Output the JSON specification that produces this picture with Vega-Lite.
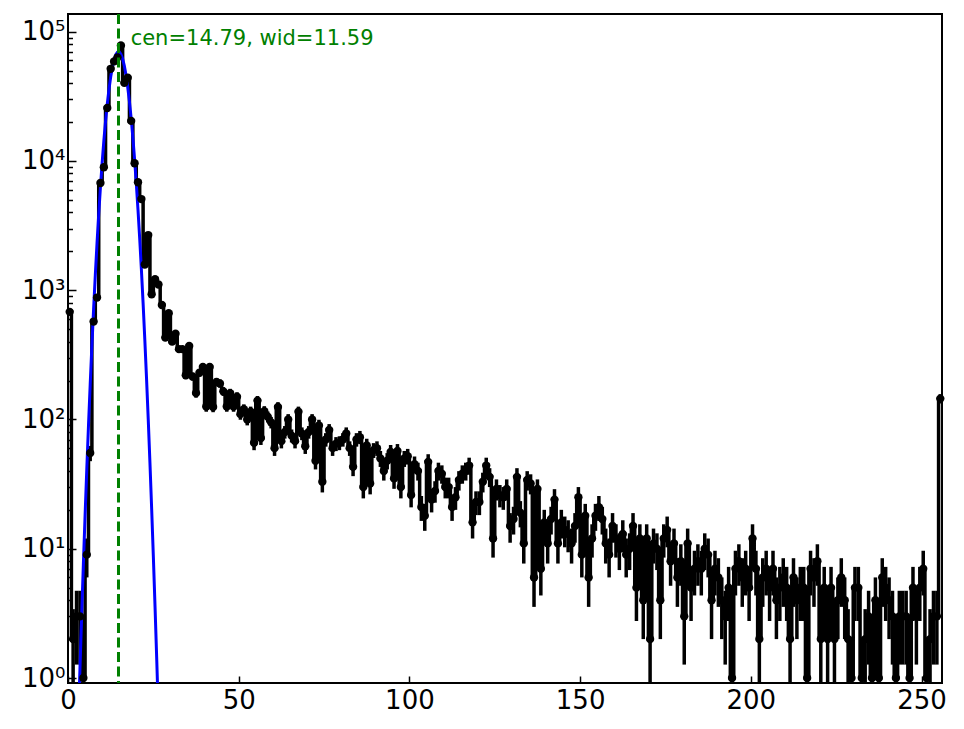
{
  "$schema": "https://vega.github.io/schema/vega-lite/v6.json",
  "width": 874,
  "height": 669,
  "autosize": {"type": "none"},
  "padding": {"left": 68, "top": 14, "right": 22, "bottom": 46},
  "background": "white",
  "config": {
    "font": "DejaVu Sans",
    "view": {"stroke": "black", "strokeWidth": 2},
    "axis": {"grid": false, "domain": false, "labelFlush": false, "labelOverlap": false, "labelBound": false, "ticks": true, "tickColor": "black", "tickWidth": 1.5, "tickOpacity": 1, "labelColor": "black", "labelFont": "DejaVu Sans", "labelFontSize": 26, "zindex": 1}
  },
  "datasets": {
    "hist": [
      {"x": 0.5, "n": 680, "e": 26.08}, {"x": 1.5, "n": 2, "e": 1.41}, {"x": 2.5, "n": 3, "e": 1.73}, {"x": 3.5, "n": 3, "e": 1.73},
      {"x": 4.5, "n": 1, "e": 0.999}, {"x": 5.5, "n": 9, "e": 3}, {"x": 6.5, "n": 55, "e": 7.42}, {"x": 7.5, "n": 572, "e": 23.92},
      {"x": 8.5, "n": 877, "e": 29.61}, {"x": 9.5, "n": 6750, "e": 82.16}, {"x": 10.5, "n": 8940, "e": 94.55}, {"x": 11.5, "n": 25700, "e": 160.31},
      {"x": 12.5, "n": 51600, "e": 227.16}, {"x": 13.5, "n": 58900, "e": 242.69}, {"x": 14.5, "n": 63300, "e": 251.59}, {"x": 15.5, "n": 78300, "e": 279.82},
      {"x": 16.5, "n": 40200, "e": 200.5}, {"x": 17.5, "n": 44000, "e": 209.76}, {"x": 18.5, "n": 20400, "e": 142.83}, {"x": 19.5, "n": 9600, "e": 97.98},
      {"x": 20.5, "n": 6840, "e": 82.7}, {"x": 21.5, "n": 5070, "e": 71.2}, {"x": 22.5, "n": 1580, "e": 39.75}, {"x": 23.5, "n": 2670, "e": 51.67},
      {"x": 24.5, "n": 931, "e": 30.51}, {"x": 25.5, "n": 1217, "e": 34.89}, {"x": 26.5, "n": 1107, "e": 33.27}, {"x": 27.5, "n": 769, "e": 27.73},
      {"x": 28.5, "n": 430, "e": 20.74}, {"x": 29.5, "n": 663, "e": 25.75}, {"x": 30.5, "n": 400, "e": 20}, {"x": 31.5, "n": 460, "e": 21.45},
      {"x": 32.5, "n": 350, "e": 18.71}, {"x": 33.5, "n": 350, "e": 18.71}, {"x": 34.5, "n": 220, "e": 14.83}, {"x": 35.5, "n": 370, "e": 19.24},
      {"x": 36.5, "n": 215, "e": 14.66}, {"x": 37.5, "n": 160, "e": 12.65}, {"x": 38.5, "n": 230, "e": 15.17}, {"x": 39.5, "n": 255, "e": 15.97},
      {"x": 40.5, "n": 126, "e": 11.22}, {"x": 41.5, "n": 255, "e": 15.97}, {"x": 42.5, "n": 125, "e": 11.18}, {"x": 43.5, "n": 195, "e": 13.96},
      {"x": 44.5, "n": 190, "e": 13.78}, {"x": 45.5, "n": 165, "e": 12.85}, {"x": 46.5, "n": 126, "e": 11.22}, {"x": 47.5, "n": 160, "e": 12.65},
      {"x": 48.5, "n": 126, "e": 11.22}, {"x": 49.5, "n": 150, "e": 12.25}, {"x": 50.5, "n": 110, "e": 10.49}, {"x": 51.5, "n": 120, "e": 10.95},
      {"x": 52.5, "n": 100, "e": 10}, {"x": 53.5, "n": 115, "e": 10.72}, {"x": 54.5, "n": 66, "e": 8.12}, {"x": 55.5, "n": 140, "e": 11.83},
      {"x": 56.5, "n": 72, "e": 8.49}, {"x": 57.5, "n": 116, "e": 10.77}, {"x": 58.5, "n": 105, "e": 10.25}, {"x": 59.5, "n": 95, "e": 9.75},
      {"x": 60.5, "n": 60, "e": 7.75}, {"x": 61.5, "n": 125, "e": 11.18}, {"x": 62.5, "n": 68, "e": 8.25}, {"x": 63.5, "n": 80, "e": 8.94},
      {"x": 64.5, "n": 100, "e": 10}, {"x": 65.5, "n": 75, "e": 8.66}, {"x": 66.5, "n": 68, "e": 8.25}, {"x": 67.5, "n": 115, "e": 10.72},
      {"x": 68.5, "n": 78, "e": 8.83}, {"x": 69.5, "n": 62, "e": 7.87}, {"x": 70.5, "n": 80, "e": 8.94}, {"x": 71.5, "n": 100, "e": 10},
      {"x": 72.5, "n": 48, "e": 6.93}, {"x": 73.5, "n": 90, "e": 9.49}, {"x": 74.5, "n": 33, "e": 5.74}, {"x": 75.5, "n": 70, "e": 8.37},
      {"x": 76.5, "n": 83, "e": 9.11}, {"x": 77.5, "n": 60, "e": 7.75}, {"x": 78.5, "n": 65, "e": 8.06}, {"x": 79.5, "n": 66, "e": 8.12},
      {"x": 80.5, "n": 70, "e": 8.37}, {"x": 81.5, "n": 78, "e": 8.83}, {"x": 82.5, "n": 60, "e": 7.75}, {"x": 83.5, "n": 43, "e": 6.56},
      {"x": 84.5, "n": 70, "e": 8.37}, {"x": 85.5, "n": 73, "e": 8.54}, {"x": 86.5, "n": 30, "e": 5.48}, {"x": 87.5, "n": 63, "e": 7.94},
      {"x": 88.5, "n": 32, "e": 5.66}, {"x": 89.5, "n": 58, "e": 7.62}, {"x": 90.5, "n": 60, "e": 7.75}, {"x": 91.5, "n": 50, "e": 7.07},
      {"x": 92.5, "n": 40, "e": 6.32}, {"x": 93.5, "n": 48, "e": 6.93}, {"x": 94.5, "n": 56, "e": 7.48}, {"x": 95.5, "n": 35, "e": 5.92},
      {"x": 96.5, "n": 57, "e": 7.55}, {"x": 97.5, "n": 30, "e": 5.48}, {"x": 98.5, "n": 50, "e": 7.07}, {"x": 99.5, "n": 52, "e": 7.21},
      {"x": 100.5, "n": 26, "e": 5.1}, {"x": 101.5, "n": 45, "e": 6.71}, {"x": 102.5, "n": 40, "e": 6.32}, {"x": 103.5, "n": 21, "e": 4.58},
      {"x": 104.5, "n": 18, "e": 4.24}, {"x": 105.5, "n": 47, "e": 6.86}, {"x": 106.5, "n": 24, "e": 4.9}, {"x": 107.5, "n": 28, "e": 5.29},
      {"x": 108.5, "n": 40, "e": 6.32}, {"x": 109.5, "n": 38, "e": 6.16}, {"x": 110.5, "n": 30, "e": 5.48}, {"x": 111.5, "n": 30, "e": 5.48},
      {"x": 112.5, "n": 21, "e": 4.58}, {"x": 113.5, "n": 25, "e": 5}, {"x": 114.5, "n": 34, "e": 5.83}, {"x": 115.5, "n": 38, "e": 6.16},
      {"x": 116.5, "n": 40, "e": 6.32}, {"x": 117.5, "n": 44, "e": 6.63}, {"x": 118.5, "n": 16, "e": 4}, {"x": 119.5, "n": 23, "e": 4.8},
      {"x": 120.5, "n": 23, "e": 4.8}, {"x": 121.5, "n": 33, "e": 5.74}, {"x": 122.5, "n": 44, "e": 6.63}, {"x": 123.5, "n": 36, "e": 6},
      {"x": 124.5, "n": 12, "e": 3.46}, {"x": 125.5, "n": 29, "e": 5.39}, {"x": 126.5, "n": 26, "e": 5.1}, {"x": 127.5, "n": 25, "e": 5},
      {"x": 128.5, "n": 29, "e": 5.39}, {"x": 129.5, "n": 15, "e": 3.87}, {"x": 130.5, "n": 17, "e": 4.12}, {"x": 131.5, "n": 36, "e": 6},
      {"x": 132.5, "n": 19, "e": 4.36}, {"x": 133.5, "n": 11, "e": 3.32}, {"x": 134.5, "n": 34, "e": 5.83}, {"x": 135.5, "n": 32, "e": 5.66},
      {"x": 136.5, "n": 6, "e": 2.45}, {"x": 137.5, "n": 29, "e": 5.39}, {"x": 138.5, "n": 7, "e": 2.65}, {"x": 139.5, "n": 16, "e": 4},
      {"x": 140.5, "n": 11, "e": 3.32}, {"x": 141.5, "n": 17, "e": 4.12}, {"x": 142.5, "n": 24, "e": 4.9}, {"x": 143.5, "n": 11, "e": 3.32},
      {"x": 144.5, "n": 16, "e": 4}, {"x": 145.5, "n": 14, "e": 3.74}, {"x": 146.5, "n": 13, "e": 3.61}, {"x": 147.5, "n": 11, "e": 3.32},
      {"x": 148.5, "n": 15, "e": 3.87}, {"x": 149.5, "n": 25, "e": 5}, {"x": 150.5, "n": 9, "e": 3}, {"x": 151.5, "n": 18, "e": 4.24},
      {"x": 152.5, "n": 6, "e": 2.45}, {"x": 153.5, "n": 12, "e": 3.46}, {"x": 154.5, "n": 18, "e": 4.24}, {"x": 155.5, "n": 21, "e": 4.58},
      {"x": 156.5, "n": 17, "e": 4.12}, {"x": 157.5, "n": 11, "e": 3.32}, {"x": 158.5, "n": 9, "e": 3}, {"x": 159.5, "n": 15, "e": 3.87},
      {"x": 160.5, "n": 12, "e": 3.46}, {"x": 161.5, "n": 10, "e": 3.16}, {"x": 162.5, "n": 13, "e": 3.61}, {"x": 163.5, "n": 9, "e": 3},
      {"x": 164.5, "n": 10, "e": 3.16}, {"x": 165.5, "n": 15, "e": 3.87}, {"x": 166.5, "n": 5, "e": 2.24}, {"x": 167.5, "n": 12, "e": 3.46},
      {"x": 168.5, "n": 4, "e": 2}, {"x": 169.5, "n": 12, "e": 3.46}, {"x": 170.5, "n": 2, "e": 1.41}, {"x": 171.5, "n": 11, "e": 3.32},
      {"x": 172.5, "n": 10, "e": 3.16}, {"x": 173.5, "n": 4, "e": 2}, {"x": 174.5, "n": 12, "e": 3.46}, {"x": 175.5, "n": 14, "e": 3.74},
      {"x": 176.5, "n": 8, "e": 2.83}, {"x": 177.5, "n": 11, "e": 3.32}, {"x": 178.5, "n": 6, "e": 2.45}, {"x": 179.5, "n": 8, "e": 2.83},
      {"x": 180.5, "n": 3, "e": 1.73}, {"x": 181.5, "n": 11, "e": 3.32}, {"x": 182.5, "n": 5, "e": 2.24}, {"x": 183.5, "n": 7, "e": 2.65},
      {"x": 184.5, "n": 8, "e": 2.83}, {"x": 185.5, "n": 7, "e": 2.65}, {"x": 186.5, "n": 10, "e": 3.16}, {"x": 187.5, "n": 9, "e": 3},
      {"x": 188.5, "n": 4, "e": 2}, {"x": 189.5, "n": 7, "e": 2.65}, {"x": 190.5, "n": 6, "e": 2.45}, {"x": 191.5, "n": 4, "e": 2},
      {"x": 192.5, "n": 3, "e": 1.73}, {"x": 193.5, "n": 5, "e": 2.24}, {"x": 194.5, "n": 1, "e": 0.999}, {"x": 195.5, "n": 7, "e": 2.65},
      {"x": 196.5, "n": 8, "e": 2.83}, {"x": 197.5, "n": 6, "e": 2.45}, {"x": 198.5, "n": 7, "e": 2.65}, {"x": 199.5, "n": 5, "e": 2.24},
      {"x": 200.5, "n": 12, "e": 3.46}, {"x": 201.5, "n": 7, "e": 2.65}, {"x": 202.5, "n": 2, "e": 1.41}, {"x": 203.5, "n": 6, "e": 2.45},
      {"x": 204.5, "n": 7, "e": 2.65}, {"x": 205.5, "n": 5, "e": 2.24}, {"x": 206.5, "n": 7, "e": 2.65}, {"x": 207.5, "n": 4, "e": 2},
      {"x": 208.5, "n": 5, "e": 2.24}, {"x": 209.5, "n": 6, "e": 2.45}, {"x": 210.5, "n": 5, "e": 2.24}, {"x": 211.5, "n": 2, "e": 1.41},
      {"x": 212.5, "n": 6, "e": 2.45}, {"x": 213.5, "n": 4, "e": 2}, {"x": 214.5, "n": 5, "e": 2.24}, {"x": 215.5, "n": 5, "e": 2.24},
      {"x": 216.5, "n": 1, "e": 0.999}, {"x": 217.5, "n": 7, "e": 2.65}, {"x": 218.5, "n": 6, "e": 2.45}, {"x": 219.5, "n": 8, "e": 2.83},
      {"x": 220.5, "n": 2, "e": 1.41}, {"x": 221.5, "n": 5, "e": 2.24}, {"x": 222.5, "n": 2, "e": 1.41}, {"x": 223.5, "n": 5, "e": 2.24},
      {"x": 224.5, "n": 2, "e": 1.41}, {"x": 225.5, "n": 4, "e": 2}, {"x": 226.5, "n": 6, "e": 2.45}, {"x": 227.5, "n": 4, "e": 2},
      {"x": 228.5, "n": 2, "e": 1.41}, {"x": 229.5, "n": 1, "e": 0.999}, {"x": 230.5, "n": 5, "e": 2.24}, {"x": 231.5, "n": 5, "e": 2.24},
      {"x": 232.5, "n": 1, "e": 0.999}, {"x": 233.5, "n": 2, "e": 1.41}, {"x": 234.5, "n": 3, "e": 1.73}, {"x": 235.5, "n": 1, "e": 0.999},
      {"x": 236.5, "n": 4, "e": 2}, {"x": 237.5, "n": 1, "e": 0.999}, {"x": 238.5, "n": 6, "e": 2.45}, {"x": 239.5, "n": 5, "e": 2.24},
      {"x": 240.5, "n": 4, "e": 2}, {"x": 241.5, "n": 3, "e": 1.73}, {"x": 242.5, "n": 1, "e": 0.999}, {"x": 243.5, "n": 3, "e": 1.73},
      {"x": 244.5, "n": 3, "e": 1.73}, {"x": 245.5, "n": 3, "e": 1.73}, {"x": 246.5, "n": 1, "e": 0.999}, {"x": 247.5, "n": 5, "e": 2.24},
      {"x": 248.5, "n": 3, "e": 1.73}, {"x": 249.5, "n": 5, "e": 2.24}, {"x": 250.5, "n": 7, "e": 2.65}, {"x": 251.5, "n": 1, "e": 0.999},
      {"x": 252.5, "n": 2, "e": 1.41}, {"x": 253.5, "n": 3, "e": 1.73}, {"x": 254.5, "n": 3, "e": 1.73}, {"x": 255.5, "n": 145, "e": 12.04}
    ],
    "fit": [
      {"gx": 3.0, "gy": 0.433}, {"gx": 3.5, "gy": 1.17}, {"gx": 4.0, "gy": 3.04}, {"gx": 4.5, "gy": 7.54},
      {"gx": 5.0, "gy": 17.95}, {"gx": 5.5, "gy": 40.9}, {"gx": 6.0, "gy": 89.2}, {"gx": 6.5, "gy": 186},
      {"gx": 7.0, "gy": 373}, {"gx": 7.5, "gy": 714}, {"gx": 8.0, "gy": 1310}, {"gx": 8.5, "gy": 2303},
      {"gx": 9.0, "gy": 3885}, {"gx": 9.5, "gy": 6260}, {"gx": 10.0, "gy": 9660}, {"gx": 10.5, "gy": 14310},
      {"gx": 11.0, "gy": 20280}, {"gx": 11.5, "gy": 27510}, {"gx": 12.0, "gy": 35760}, {"gx": 12.5, "gy": 44520},
      {"gx": 13.0, "gy": 53090}, {"gx": 13.5, "gy": 60630}, {"gx": 14.0, "gy": 66330}, {"gx": 14.5, "gy": 69500},
      {"gx": 14.79, "gy": 70000}, {"gx": 15.0, "gy": 69730}, {"gx": 15.5, "gy": 67020}, {"gx": 16.0, "gy": 61690},
      {"gx": 16.5, "gy": 54390}, {"gx": 17.0, "gy": 45930}, {"gx": 17.5, "gy": 37150}, {"gx": 18.0, "gy": 28780},
      {"gx": 18.5, "gy": 21350}, {"gx": 19.0, "gy": 15180}, {"gx": 19.5, "gy": 10330}, {"gx": 20.0, "gy": 6730},
      {"gx": 20.5, "gy": 4200}, {"gx": 21.0, "gy": 2513}, {"gx": 21.5, "gy": 1439}, {"gx": 22.0, "gy": 790},
      {"gx": 22.5, "gy": 414}, {"gx": 23.0, "gy": 209}, {"gx": 23.5, "gy": 100.6}, {"gx": 24.0, "gy": 46.4},
      {"gx": 24.5, "gy": 20.5}, {"gx": 25.0, "gy": 8.69}, {"gx": 25.5, "gy": 3.52}, {"gx": 26.0, "gy": 1.37},
      {"gx": 26.5, "gy": 0.51}
    ],
    "note": [
      {"cen": 14.79, "tx": 18.35, "ty": 78700, "label": "cen=14.79, wid=11.59"}
    ]
  },
  "layer": [
    {
      "data": {"name": "hist"},
      "mark": {"type": "line", "interpolate": "step", "color": "black", "strokeWidth": 3.5, "clip": true},
      "encoding": {
        "x": {"field": "x", "type": "quantitative", "title": null, "scale": {"domain": [0, 256], "nice": false, "zero": false},
          "axis": {"orient": "bottom", "values": [0, 50, 100, 150, 200, 250], "tickSize": -7, "labelPadding": 11}},
        "y": {"field": "n", "type": "quantitative", "title": null, "scale": {"type": "log", "domain": [0.915, 137000], "nice": false},
          "axis": {"orient": "left", "labelPadding": 11,
            "values": [1, 2, 3, 4, 5, 6, 7, 8, 9, 10, 20, 30, 40, 50, 60, 70, 80, 90, 100, 200, 300, 400, 500, 600, 700, 800, 900, 1000, 2000, 3000, 4000, 5000, 6000, 7000, 8000, 9000, 10000, 20000, 30000, 40000, 50000, 60000, 70000, 80000, 90000, 100000],
            "tickSize": {"condition": {"test": "indexof([1, 10, 100, 1000, 10000, 100000], datum.value) >= 0", "value": -8}, "value": -4.5},
            "labelExpr": "indexof([1, 10, 100, 1000, 10000, 100000], datum.value) >= 0 ? '10' + ['⁰','¹','²','³','⁴','⁵'][round(log(datum.value) / LN10)] : ''"}}
      }
    },
    {
      "data": {"name": "hist"},
      "mark": {"type": "errorbar", "color": "black", "thickness": 3.5, "clip": true},
      "encoding": {
        "x": {"field": "x", "type": "quantitative", "title": null},
        "y": {"field": "n", "type": "quantitative", "title": null},
        "yError": {"field": "e"}
      }
    },
    {
      "data": {"name": "fit"},
      "mark": {"type": "line", "color": "#0000ff", "strokeWidth": 3, "clip": true},
      "encoding": {
        "x": {"field": "gx", "type": "quantitative", "title": null},
        "y": {"field": "gy", "type": "quantitative", "title": null}
      }
    },
    {
      "data": {"name": "hist"},
      "mark": {"type": "circle", "color": "black", "size": 70, "opacity": 1},
      "encoding": {
        "x": {"field": "x", "type": "quantitative", "title": null},
        "y": {"field": "n", "type": "quantitative", "title": null}
      }
    },
    {
      "data": {"name": "note"},
      "mark": {"type": "rule", "color": "#008000", "strokeWidth": 3, "strokeDash": [10, 4.5]},
      "encoding": {
        "x": {"field": "cen", "type": "quantitative", "title": null}
      }
    },
    {
      "data": {"name": "note"},
      "mark": {"type": "text", "color": "#008000", "font": "DejaVu Sans", "fontSize": 21, "align": "left", "baseline": "alphabetic"},
      "encoding": {
        "x": {"field": "tx", "type": "quantitative", "title": null},
        "y": {"field": "ty", "type": "quantitative", "title": null},
        "text": {"field": "label"}
      }
    }
  ]
}
